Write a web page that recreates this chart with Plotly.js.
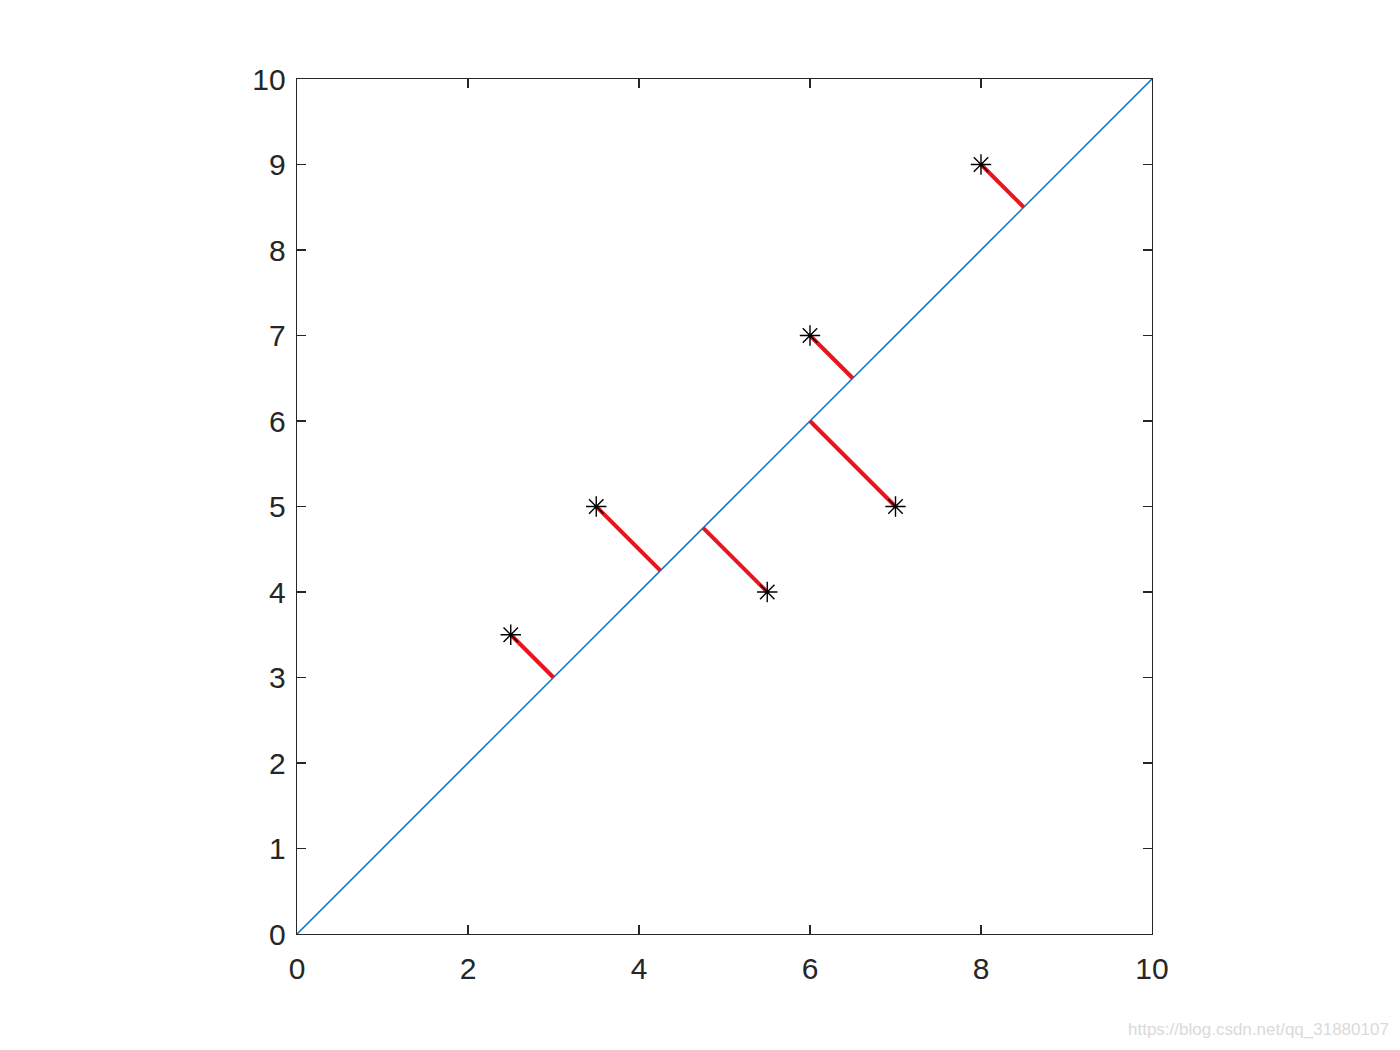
<!DOCTYPE html>
<html>
<head>
<meta charset="utf-8">
<script src="https://cdn.plot.ly/plotly-3.0.1.min.js"></script>
<style>html,body{margin:0;padding:0;background:#fff;}#chart{width:1400px;height:1050px;}</style>
</head>
<body>
<div id="chart"></div>
<script>
// Data points (black asterisks)
const pointX = [2.5, 3.5, 5.5, 6, 7, 8];
const pointY = [3.5, 5, 4, 7, 5, 9];
// Foot of each red segment on the diagonal line
const footX = [3, 4.25, 4.75, 6.5, 6, 8.5];
const footY = [3, 4.25, 4.75, 6.5, 6, 8.5];
// Diagonal line endpoints
const lineX = [0, 10];
const lineY = [0, 10];
const tickVals = [0, 2, 4, 6, 8, 10];
const yTickVals = [0, 1, 2, 3, 4, 5, 6, 7, 8, 9, 10];

const segX = [], segY = [];
for (let i = 0; i < pointX.length; i++) {
  segX.push(pointX[i], footX[i], null);
  segY.push(pointY[i], footY[i], null);
}

const traces = [
  {x: lineX, y: lineY, mode: 'lines', line: {color: '#0072BD', width: 1.5}, hoverinfo: 'skip'},
  {x: segX, y: segY, mode: 'lines', line: {color: '#E8141E', width: 4}, connectgaps: false},
  {x: pointX, y: pointY, mode: 'markers', marker: {symbol: 'asterisk-open', size: 17, color: '#000', line: {color: '#000', width: 1.4}}}
];

const axisCommon = {
  range: [0, 10], showgrid: false, zeroline: false,
  showline: true, linecolor: '#262626', linewidth: 1.4, mirror: 'ticks',
  ticks: 'inside', ticklen: 9, tickwidth: 1.3, tickcolor: '#262626',
  tickfont: {family: 'Liberation Sans, Arial, sans-serif', size: 30, color: '#262626'},
  fixedrange: true
};

const layout = {
  width: 1400, height: 1050,
  margin: {l: 297, r: 248, t: 79, b: 116, pad: 0},
  paper_bgcolor: '#fff', plot_bgcolor: '#fff',
  showlegend: false,
  xaxis: Object.assign({}, axisCommon, {tickvals: tickVals, ticklabelstandoff: 8}),
  yaxis: Object.assign({}, axisCommon, {tickvals: yTickVals, ticklabelstandoff: 4}),
  annotations: [{
    text: 'https://blog.csdn.net/qq_31880107', xref: 'paper', yref: 'paper',
    x: 1.2795, y: -0.112, xanchor: 'right', yanchor: 'middle', showarrow: false,
    font: {family: 'Liberation Sans, Arial, sans-serif', size: 17, color: '#dadada'}
  }]
};

Plotly.newPlot('chart', traces, layout, {displayModeBar: false, staticPlot: true});
</script>
</body>
</html>
